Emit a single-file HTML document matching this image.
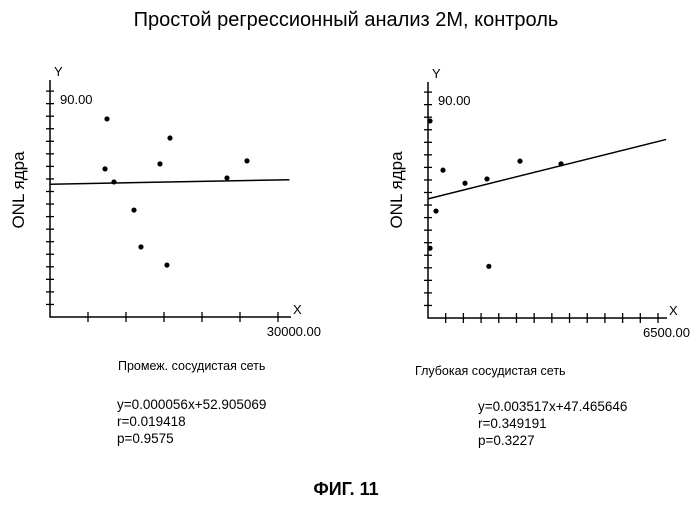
<!DOCTYPE html>
<html><head><meta charset="utf-8"><style>
body{margin:0;background:#fff;}
svg text{font-family:"Liberation Sans",sans-serif;fill:#000;}
</style></head><body>
<svg id="c" width="696" height="500" xmlns="http://www.w3.org/2000/svg">
<text x="346" y="26" font-size="20" text-anchor="middle">Простой регрессионный анализ 2М, контроль</text>
<text x="346" y="495" font-size="18" font-weight="bold" text-anchor="middle">ФИГ. 11</text>
</svg>
<script>
const leftX=[7500,15790,7240,8420,14470,23290,25920,11050,11970,15390];
const leftY=[78.9,71.3,59.0,53.8,61.0,55.4,62.2,42.6,27.9,20.7];
const leftFit=[0.000056,52.905069];
const rightX=[57,424,1046,1667,2600,3760,226,57,1720];
const rightY=[78.5,58.9,53.7,55.4,62.5,61.4,42.6,27.8,20.6];
const rightFit=[0.003517,47.465646];
const yTicks=[5,10,15,20,25,30,35,40,45,50,55,60,65,70,75,80,85,90];
const leftXTicks=[5000,10000,15000,20000,25000,30000];
const rightXTicks=[500,1000,1500,2000,2500,3000,3500,4000,4500,5000,5500,6000,6500];
const svg=document.getElementById('c');
const NS='http://www.w3.org/2000/svg';
function mk(tag,attrs,parent){const e=document.createElementNS(NS,tag);for(const k in attrs)e.setAttribute(k,attrs[k]);(parent||svg).appendChild(e);return e;}
function chart(o){
  const g=mk('g',{});
  
  
  const sx=v=>o.x0+v*(o.xEndPx-o.x0)/o.xMax;
  const sy=v=>o.y0-v*2.51;
  const ax=mk('path',{d:`M${o.x0},${o.yTop}V${o.y0}H${o.xAxisEnd}`,stroke:'#000','stroke-width':1.5,fill:'none'},g);
  
  
  yTicks.forEach(t=>{const l=mk('line',{x1:o.x0-4,x2:o.x0+4,y1:sy(t),y2:sy(t),stroke:'#000','stroke-width':1.3},g);
    
    });
  o.xTicks.forEach(t=>{const l=mk('line',{x1:sx(t),x2:sx(t),y1:o.y0-5,y2:o.y0+5,stroke:'#000','stroke-width':1.3},g);
    
    });
  const fx=o.lineEnd;
  const rl=mk('line',{x1:o.x0,y1:sy(o.fit[1]),x2:sx(fx),y2:sy(o.fit[0]*fx+o.fit[1]),stroke:'#000','stroke-width':1.5},g);
  
  
  o.xs.forEach((x,i)=>{const c=mk('circle',{cx:sx(x),cy:sy(o.ys[i]),r:2.6,fill:'#000'},g);
    
    });
  const t=(txt,x,y,fs,name,extra)=>{const e=mk('text',Object.assign({x:x,y:y,'font-size':fs},extra||{}),g);e.textContent=txt;
    
    return e;};
  t('Y',o.x0+4,o.yTop-4,13,'y-axis-letter');
  t('90.00',o.x0+10,sy(90)+13,13,'y-max-label');
  t('X',o.xAxisEnd+2,o.y0-3,13,'x-axis-letter');
  t(o.xMaxLabel,o.xLabelRight,o.y0+19,13,'x-max-label',{'text-anchor':'end'});
  t('ONL ядра',o.x0-26,190,17,'y-axis-title',{'text-anchor':'middle',transform:`rotate(-90 ${o.x0-26} 190)`});
  t(o.caption,o.capX,o.capY,12.5,'x-axis-title');
  o.eq.forEach((s,i)=>t(s,o.eqX,o.eqY+i*17,13.5,'regression-stat'));
}
chart({name:'left-chart',x0:50,y0:317,yTop:80,xEndPx:278,xMax:30000,xAxisEnd:291,xTicks:leftXTicks,xs:leftX,ys:leftY,fit:leftFit,lineEnd:31500,xMaxLabel:'30000.00',xLabelRight:321,caption:'Промеж. сосудистая сеть',capX:118,capY:370,eq:['y=0.000056x+52.905069','r=0.019418','p=0.9575'],eqX:117,eqY:409});
chart({name:'right-chart',x0:428,y0:318,yTop:82,xEndPx:658,xMax:6500,xAxisEnd:667,xTicks:rightXTicks,xs:rightX,ys:rightY,fit:rightFit,lineEnd:6730,xMaxLabel:'6500.00',xLabelRight:690,caption:'Глубокая сосудистая сеть',capX:415,capY:375,eq:['y=0.003517x+47.465646','r=0.349191','p=0.3227'],eqX:478,eqY:411});
</script>
</body></html>
